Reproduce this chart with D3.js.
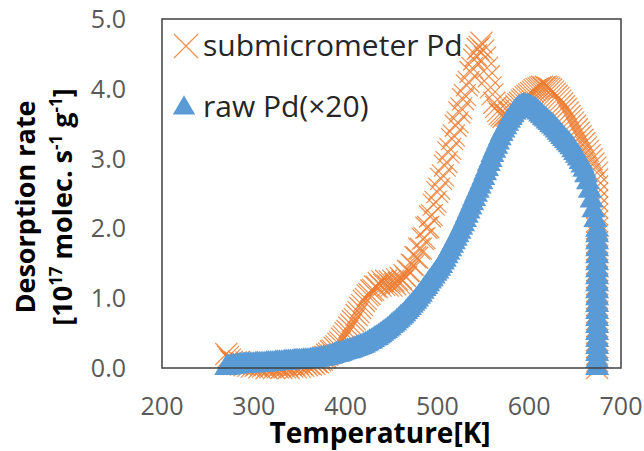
<!DOCTYPE html>
<html>
<head>
<meta charset="utf-8">
<script src="https://cdn.jsdelivr.net/npm/d3@7"></script>
<style>
  body { margin: 0; background: #fff; }
  svg { display: block; font-family: "Open Sans", sans-serif; }
</style>
</head>
<body>
<div class="canvas"></div>
<script>
// temperature grid of the measurement, 270 K to 674 K every 2 K, then a hold at 674 K
const gridTemps = d3.range(270, 675, 2);
const holdTemp = 674;

// submicrometer Pd (one row = 20 K)
const subRates = [
  0.20, 0.16, 0.12, 0.09, 0.07, 0.08, 0.06, 0.09, 0.05, 0.07,
  0.04, 0.08, 0.03, 0.06, 0.02, 0.07, 0.03, 0.05, 0.01, 0.06,
  0.02, 0.05, 0.00, 0.06, 0.01, 0.04, 0.00, 0.05, 0.01, 0.03,
  0.00, 0.05, 0.01, 0.04, 0.00, 0.05, 0.02, 0.04, 0.01, 0.06,
  0.02, 0.05, 0.03, 0.07, 0.04, 0.06, 0.05, 0.08, 0.06, 0.09,
  0.08, 0.11, 0.12, 0.15, 0.16, 0.19, 0.21, 0.24, 0.25, 0.29,
  0.31, 0.35, 0.37, 0.42, 0.45, 0.50, 0.53, 0.58, 0.62, 0.67,
  0.70, 0.76, 0.80, 0.86, 0.90, 0.96, 0.99, 1.04, 1.06, 1.11,
  1.12, 1.17, 1.16, 1.22, 1.18, 1.24, 1.19, 1.25, 1.18, 1.24,
  1.18, 1.25, 1.20, 1.27, 1.22, 1.29, 1.25, 1.33, 1.30, 1.39,
  1.38, 1.48, 1.47, 1.59, 1.58, 1.71, 1.71, 1.85, 1.86, 2.01,
  2.02, 2.17, 2.19, 2.34, 2.38, 2.52, 2.57, 2.71, 2.76, 2.90,
  2.95, 3.09, 3.14, 3.28, 3.33, 3.47, 3.52, 3.66, 3.72, 3.85,
  3.91, 4.05, 4.10, 4.24, 4.30, 4.42, 4.48, 4.57, 4.60, 4.66,
  4.55, 4.45, 4.30, 4.18, 4.02, 3.92, 3.80, 3.74, 3.68, 3.64,
  3.62, 3.60, 3.63, 3.62, 3.66, 3.67, 3.70, 3.72, 3.75, 3.78,
  3.80, 3.83, 3.85, 3.88, 3.90, 3.92, 3.94, 3.96, 3.98, 4.00,
  4.01, 4.02, 4.03, 4.02, 4.03, 4.02, 4.01, 3.99, 3.96, 3.93,
  3.90, 3.87, 3.83, 3.79, 3.75, 3.71, 3.66, 3.61, 3.57, 3.52,
  3.47, 3.42, 3.37, 3.32, 3.27, 3.22, 3.16, 3.11, 3.05, 2.99,
  2.93, 2.87, 2.80
];
const subHoldRates = [2.7, 2.6, 2.5, 2.4, 2.3, 2.2, 2.1, 2.0, 1.9, 1.8, 1.7, 1.6, 1.5, 1.4,
  1.3, 1.2, 1.1, 1.0, 0.9, 0.8, 0.7, 0.6, 0.5, 0.4, 0.3, 0.2, 0.1, 0.0];

// raw Pd (x20)
const rawRates = [
  0.00, 0.01, 0.01, 0.02, 0.02, 0.02, 0.03, 0.03, 0.03, 0.03,
  0.03, 0.04, 0.04, 0.04, 0.04, 0.04, 0.05, 0.05, 0.05, 0.05,
  0.05, 0.05, 0.06, 0.06, 0.06, 0.06, 0.06, 0.07, 0.07, 0.07,
  0.07, 0.07, 0.08, 0.08, 0.08, 0.08, 0.08, 0.09, 0.09, 0.09,
  0.09, 0.09, 0.10, 0.10, 0.10, 0.10, 0.11, 0.11, 0.11, 0.12,
  0.12, 0.13, 0.13, 0.14, 0.14, 0.15, 0.16, 0.16, 0.17, 0.18,
  0.19, 0.19, 0.20, 0.21, 0.22, 0.23, 0.24, 0.24, 0.25, 0.26,
  0.27, 0.28, 0.29, 0.30, 0.31, 0.32, 0.34, 0.35, 0.37, 0.38,
  0.40, 0.42, 0.43, 0.45, 0.47, 0.49, 0.51, 0.53, 0.55, 0.57,
  0.60, 0.62, 0.64, 0.67, 0.69, 0.72, 0.74, 0.77, 0.80, 0.83,
  0.86, 0.89, 0.92, 0.95, 0.98, 1.02, 1.05, 1.09, 1.13, 1.16,
  1.20, 1.24, 1.27, 1.31, 1.35, 1.38, 1.42, 1.46, 1.51, 1.55,
  1.60, 1.65, 1.70, 1.75, 1.80, 1.85, 1.90, 1.95, 2.01, 2.06,
  2.12, 2.18, 2.24, 2.30, 2.36, 2.42, 2.48, 2.54, 2.60, 2.66,
  2.72, 2.79, 2.85, 2.92, 2.98, 3.05, 3.11, 3.17, 3.23, 3.29,
  3.35, 3.40, 3.45, 3.50, 3.54, 3.58, 3.62, 3.66, 3.69, 3.72,
  3.74, 3.75, 3.76, 3.76, 3.75, 3.74, 3.73, 3.71, 3.70, 3.68,
  3.66, 3.63, 3.61, 3.58, 3.56, 3.53, 3.51, 3.48, 3.46, 3.43,
  3.40, 3.37, 3.34, 3.31, 3.28, 3.25, 3.22, 3.19, 3.16, 3.12,
  3.08, 3.04, 3.00, 2.95, 2.90, 2.84, 2.76, 2.66, 2.54, 2.40,
  2.26, 2.12, 1.98
];
const rawHoldRates = [1.9, 1.8, 1.7, 1.6, 1.5, 1.4, 1.3, 1.2, 1.1, 1.0,
  0.9, 0.8, 0.7, 0.6, 0.5, 0.4, 0.3, 0.2, 0.1, 0.0];

const xTicks = [200, 300, 400, 500, 600, 700];
const yTicks = [0, 1, 2, 3, 4, 5];

const width = 644;
const height = 451;

const svg = d3.select('.canvas')
  .append('svg')
  .attr('width', width)
  .attr('height', height)

// scales
const x = d3.scaleLinear().domain([200, 700]).range([162, 621]);
const y = d3.scaleLinear().domain([0, 5]).range([368, 19]);

const orange = '#ED7D31';
const blue = '#5B9BD5';

const crossPath = (s) => `M${-s},${-s}L${s},${s}M${-s},${s}L${s},${-s}`;
const triangle = d3.symbol(d3.symbolTriangle, 250)();
const legendTriangle = d3.symbol(d3.symbolTriangle, 215)();

const toPoints = (rates, hold) => gridTemps.map((t, i) => ({ t, v: rates[i] }))
  .concat(hold.map(v => ({ t: holdTemp, v })));

const sub = toPoints(subRates, subHoldRates);
const raw = toPoints(rawRates, rawHoldRates);

// orange crosses first, blue triangles drawn over them
svg.append('g')
  .selectAll('path')
  .data(sub)
  .enter()
  .append('path')
  .attr('d', crossPath(11))
  .attr('transform', d => `translate(${x(d.t)}, ${y(d.v)})`)
  .attr('fill', 'none')
  .attr('stroke', orange)
  .attr('stroke-width', 1.2)
  .attr('stroke-opacity', 0.85)

svg.append('g')
  .selectAll('path')
  .data(raw)
  .enter()
  .append('path')
  .attr('d', triangle)
  .attr('transform', d => `translate(${x(d.t)}, ${y(d.v)})`)
  .attr('fill', blue)

// plot area border
svg.append('rect')
  .attr('x', x(200))
  .attr('y', y(5))
  .attr('width', x(700) - x(200))
  .attr('height', y(0) - y(5))
  .attr('fill', 'none')
  .attr('stroke', '#404040')
  .attr('stroke-width', 1.5)

// tick labels
svg.append('g')
  .selectAll('text')
  .data(yTicks)
  .enter()
  .append('text')
  .attr('x', 126)
  .attr('y', d => y(d) + 9)
  .attr('text-anchor', 'end')
  .attr('font-size', 25)
  .attr('fill', '#595959')
  .text(d => d.toFixed(1))

svg.append('g')
  .selectAll('text')
  .data(xTicks)
  .enter()
  .append('text')
  .attr('x', d => x(d))
  .attr('y', 415)
  .attr('text-anchor', 'middle')
  .attr('font-size', 25)
  .attr('fill', '#595959')
  .text(d => d)

// axis titles
svg.append('text')
  .attr('x', 380)
  .attr('y', 443)
  .attr('text-anchor', 'middle')
  .attr('font-size', 28)
  .attr('font-weight', 'bold')
  .text('Temperature[K]')

svg.append('text')
  .attr('transform', 'translate(35, 207) rotate(-90)')
  .attr('text-anchor', 'middle')
  .attr('font-size', 27)
  .attr('font-weight', 'bold')
  .text('Desorption rate')

const unit = svg.append('text')
  .attr('transform', 'translate(72, 207) rotate(-90)')
  .attr('text-anchor', 'middle')
  .attr('font-size', 27)
  .attr('font-weight', 'bold')

const parts = [['[10', false], ['17', true], [' molec. s', false], ['-1', true], [' g', false], ['-1', true], [']', false]];
parts.forEach(([txt, sup], i) => {
  const prev = i > 0 && parts[i - 1][1];
  unit.append('tspan')
    .attr('font-size', sup ? 17 : 27)
    .attr('dy', sup ? -10 : (prev ? 10 : 0))
    .text(txt)
})

// legend
const legend = svg.append('g');
legend.append('path')
  .attr('d', crossPath(12))
  .attr('transform', 'translate(186, 46)')
  .attr('fill', 'none')
  .attr('stroke', orange)
  .attr('stroke-width', 1.2)
  .attr('stroke-opacity', 0.85)
legend.append('text')
  .attr('x', 203)
  .attr('y', 56)
  .attr('font-size', 30)
  .attr('fill', '#262626')
  .text('submicrometer Pd')

legend.append('path')
  .attr('d', legendTriangle)
  .attr('transform', 'translate(184, 108)')
  .attr('fill', blue)
legend.append('text')
  .attr('x', 203)
  .attr('y', 117)
  .attr('font-size', 30)
  .attr('fill', '#262626')
  .text('raw Pd(×20)')
</script>
</body>
</html>
